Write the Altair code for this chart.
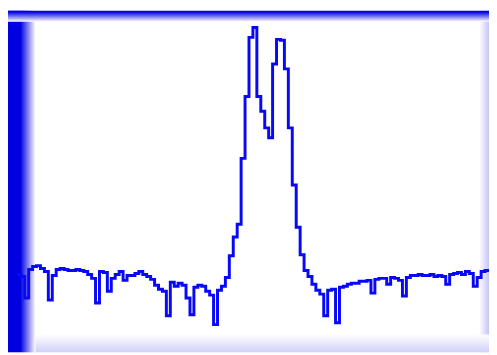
import altair as alt
import pandas as pd

# channel index and measured intensity (arbitrary units)
channel = list(range(121))
intensity = [
    79, 77, 55, 84, 87, 88, 85, 82, 53, 78,
    84, 85, 84, 83, 83, 84, 83, 82, 79, 75,
    50, 82, 81, 62, 75, 79, 82, 73, 78, 78,
    80, 82, 79, 77, 74, 68, 64, 62, 37, 71,
    67, 70, 68, 55, 38, 66, 68, 67, 62, 58,
    28, 63, 67, 76, 98, 117, 130, 197, 260, 320,
    330, 260, 245, 228, 218, 293, 318, 317, 288, 228,
    170, 127, 99, 83, 77, 69, 63, 59, 37, 63,
    64, 30, 66, 67, 69, 70, 70, 72, 72, 73,
    60, 74, 75, 75, 69, 76, 75, 73, 57, 76,
    78, 78, 79, 78, 78, 79, 77, 78, 77, 69,
    79, 80, 81, 79, 82, 80, 67, 76, 82, 83,
    84,
]

df = pd.DataFrame({"channel": channel, "intensity": intensity})

W, H = 489, 347
FRAME = "#0000e0"
LINE = "#0808f8"

one = alt.Data(values=[{}])

def band(x1, x2, y1, y2, stops, horizontal=True):
    grad = alt.LinearGradient(
        gradient="linear",
        stops=[alt.GradientStop(color=c, offset=o) for o, c in stops],
        x1=0, x2=1 if horizontal else 0, y1=0, y2=0 if horizontal else 1,
    )
    return alt.Chart(one).mark_rect(color=grad).encode(
        x=alt.value(x1), x2=alt.value(x2), y=alt.value(y1), y2=alt.value(y2)
    )

left = band(0, 28, 0, H, [(0, FRAME), (0.45, FRAME), (1, "#ffffff")])
top = band(0, W, 0, 11, [(0, FRAME), (0.1, FRAME), (1, "#ffffff")], horizontal=False)
right = band(W - 10, W, 0, H, [(0, "#ffffff"), (1, "#c4c4f6")])
bottom = band(0, W, H - 18, H, [(0, "#ffffff"), (1, "#d0d0f8")], horizontal=False)

line = alt.Chart(df).mark_line(
    interpolate="step-after", color=LINE, strokeWidth=3
).encode(
    x=alt.X("channel:Q", axis=None,
            scale=alt.Scale(domain=[-2.25, 120], nice=False, zero=False)),
    y=alt.Y("intensity:Q", axis=None,
            scale=alt.Scale(domain=[0, 347], nice=False, zero=False)),
)

chart = alt.layer(right, bottom, left, top, line).properties(
    width=W, height=H,
    autosize=alt.AutoSizeParams(type="none"),
    padding=0,
    background="#ffffff",
).configure_view(stroke=None)

chart.save("out.html", embed_options={"renderer": "svg", "actions": False})
